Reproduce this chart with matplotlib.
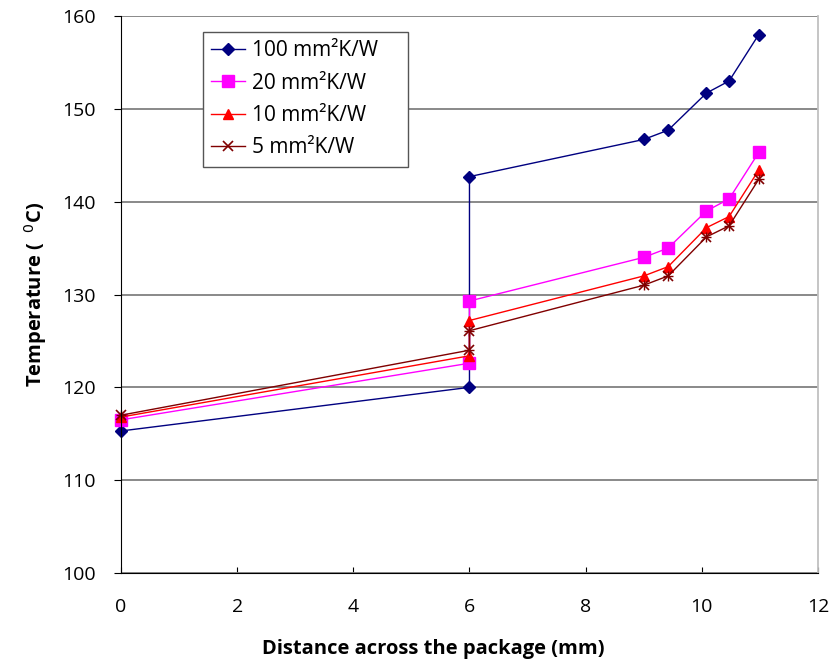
import matplotlib
matplotlib.use("Agg")
import matplotlib.pyplot as plt

plt.rcParams['font.family'] = ['Open Sans', 'DejaVu Sans']

x_left = [0, 6]
x_right = [6, 9, 9.42, 10.08, 10.47, 10.98]

s100_left = [115.3, 120.0]
s100_right = [142.7, 146.7, 147.7, 151.7, 153.0, 158.0]
s20_left = [116.5, 122.6]
s20_right = [129.3, 134.0, 135.0, 139.0, 140.3, 145.3]
s10_left = [116.8, 123.4]
s10_right = [127.2, 132.0, 133.0, 137.2, 138.4, 143.4]
s5_left = [117.0, 124.0]
s5_right = [126.1, 131.0, 132.0, 136.2, 137.4, 142.4]

labels = ["100 mm²K/W", "20 mm²K/W", "10 mm²K/W", "5 mm²K/W"]
series = [(s100_left, s100_right), (s20_left, s20_right), (s10_left, s10_right), (s5_left, s5_right)]
colors = ["#000080", "#FF00FF", "#FF0000", "#800000"]
markers = ["D", "s", "^", "x"]
msizes = [6.5, 8.5, 7, 7]

fig = plt.figure(figsize=(8.4, 6.61), dpi=100)
ax = fig.add_axes([0.144, 0.1331, 0.8298, 0.8427])

for (l, r), c, m, ms, lab in zip(series, colors, markers, msizes, labels):
    xs = x_left + x_right
    ys = l + r
    kw = dict(color=c, marker=m, markersize=ms, linewidth=1.0, label=lab + "    ", clip_on=False)
    if m == "x":
        kw.update(markeredgewidth=1.2)
        ax.plot(xs, ys, **kw)
        ax.plot(xs, ys, color=c, marker="+", markersize=ms, linewidth=0, markeredgewidth=1.0, clip_on=False)
    else:
        ax.plot(xs, ys, **kw)

ax.set_xlim(0, 12)
ax.set_ylim(100, 160)
ax.set_xticks(range(0, 13, 2))
ax.set_yticks(range(100, 161, 10))
ax.yaxis.grid(True, color="#808080", linewidth=1.3)
ax.set_axisbelow(True)
ax.spines["top"].set_visible(False)
ax.spines["right"].set_color("#c0c0c0")
ax.spines["right"].set_linewidth(1.3)
ax.spines["left"].set_color("#000000")
ax.spines["bottom"].set_color("#000000")
ax.tick_params(axis="y", labelsize=14, direction="out", length=5, pad=13, right=False)
ax.tick_params(axis="x", labelsize=14, direction="in", length=4, pad=18, top=False)
ax.set_xlabel("Distance across the package (mm)", fontsize=14.5, fontweight="bold", labelpad=18)
ax.xaxis.set_label_coords(0.448, -0.1185)
ax.set_ylabel("Temperature (  $^{0}$C)", fontsize=14.5, fontweight="bold", labelpad=9.5)

leg = ax.legend(loc="upper left", bbox_to_anchor=(0.1176, 0.971), borderaxespad=0,
                fontsize=15, frameon=True, fancybox=False, edgecolor="#555555", framealpha=1,
                borderpad=0.4, handlelength=1.6, handletextpad=0.35, labelspacing=0.54)
leg.get_frame().set_linewidth(1.0)

fig.savefig("out.png", dpi=100)
